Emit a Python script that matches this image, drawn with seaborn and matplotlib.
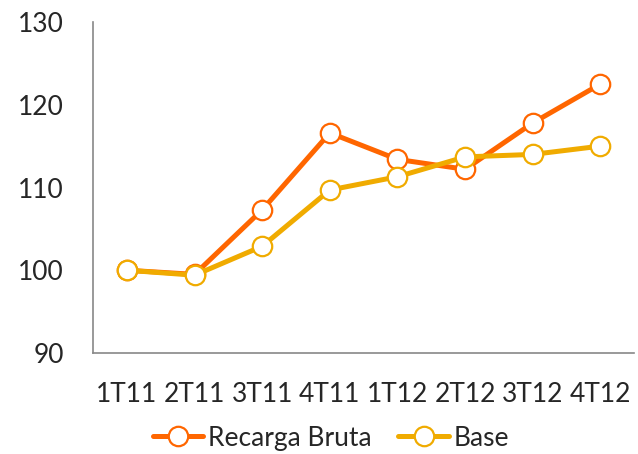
import pandas as pd
import matplotlib
matplotlib.use("Agg")
import matplotlib.pyplot as plt
import seaborn as sns

# data
quarters = ["1T11", "2T11", "3T11", "4T11", "1T12", "2T12", "3T12", "4T12"]
recarga_bruta = [100.0, 99.5, 107.3, 116.6, 113.4, 112.2, 117.8, 122.5]
base = [100.0, 99.4, 102.9, 109.7, 111.3, 113.7, 114.0, 115.0]

series_names = ["Recarga Bruta", "Base"]
colors = {"Recarga Bruta": "#FF6600", "Base": "#F0AB00"}

df = pd.DataFrame({
    "trimestre": quarters * 2,
    "valor": recarga_bruta + base,
    "serie": [series_names[0]] * len(quarters) + [series_names[1]] * len(quarters),
})

sns.set_style("white")
plt.rcParams["font.family"] = ["Lato", "DejaVu Sans"]
fsize = 19

fig = plt.figure(figsize=(6.38, 4.54), dpi=100)
ax = fig.add_axes([0.146, 0.2225, 0.848, 0.729])

sns.lineplot(data=df, x="trimestre", y="valor", hue="serie", hue_order=series_names,
             palette=colors, marker="o", markersize=14, markerfacecolor="white",
             markeredgewidth=1.6, linewidth=3.6, ax=ax, sort=False)
# marker edges should follow the line colour
for line in ax.lines:
    line.set_markeredgecolor(line.get_color())

ax.set_xlim(-0.5, len(quarters) - 0.5)
ax.set_ylim(90, 130)
ax.set_yticks([90, 100, 110, 120, 130])
ax.set_xlabel("")
ax.set_ylabel("")

# Excel-style ticks between the categories
ax.set_xticks([i + 0.5 for i in range(-1, len(quarters))], minor=False)
ax.set_xticklabels([])
ax.set_xticks(range(len(quarters)), minor=True)
ax.set_xticklabels(quarters, minor=True)
ax.tick_params(axis="x", which="minor", length=0, labelsize=fsize, pad=21)
ax.tick_params(axis="x", which="major", length=7, width=1.2, color="#888888", direction="out")
ax.tick_params(axis="y", length=7, width=1.2, color="#888888", direction="out",
               labelsize=fsize, pad=14)

for s in ["top", "right"]:
    ax.spines[s].set_visible(False)
for s in ["left", "bottom"]:
    ax.spines[s].set_color("#888888")
    ax.spines[s].set_linewidth(1.2)

handles, labels = ax.get_legend_handles_labels()
ax.legend(handles, labels, loc="center", bbox_to_anchor=(0.44, -0.257), ncol=2,
          frameon=False, fontsize=fsize, handlelength=1.9, columnspacing=1.0,
          handletextpad=0.2)

fig.savefig("out.png", dpi=100)
